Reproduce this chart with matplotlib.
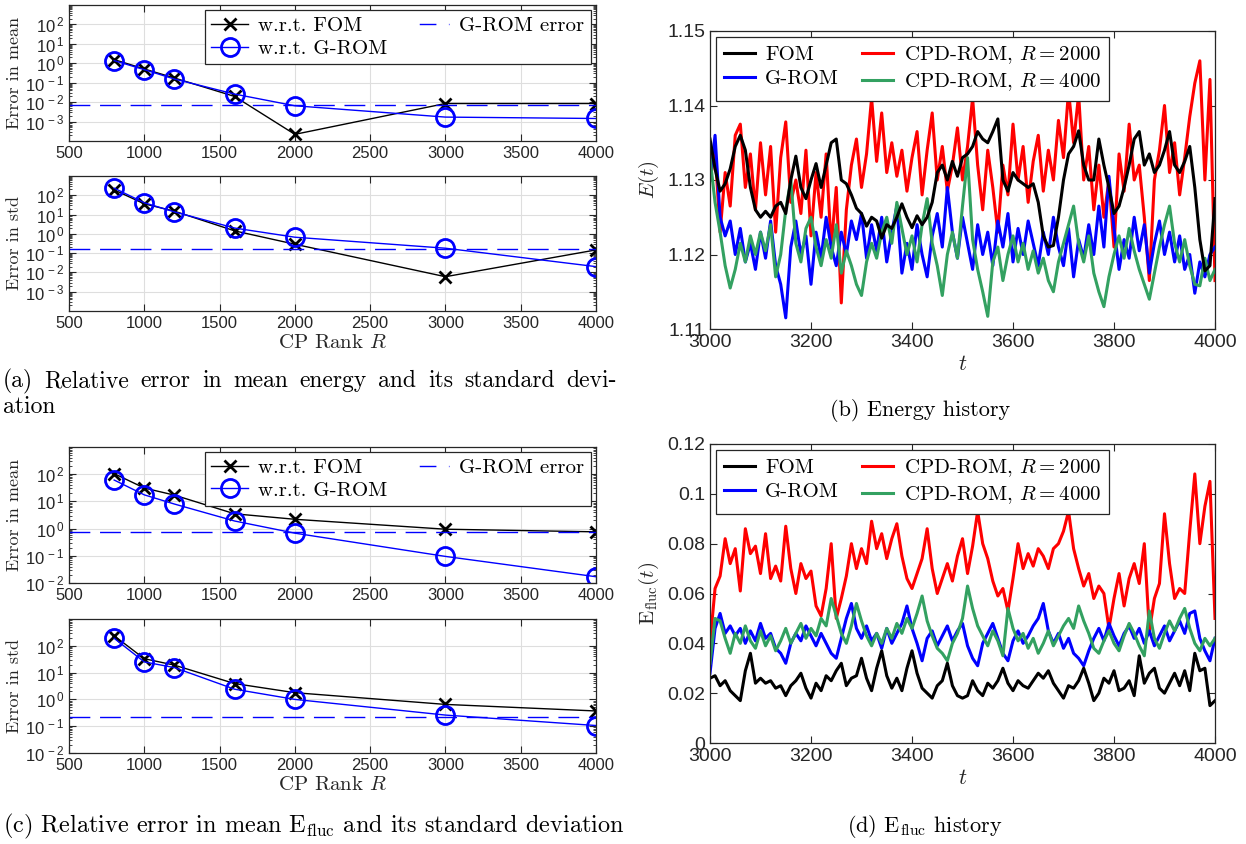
import numpy as np
import matplotlib
matplotlib.use("Agg")
import matplotlib.pyplot as plt
from matplotlib.lines import Line2D
from matplotlib.ticker import FixedLocator, FuncFormatter, LogLocator, NullFormatter, MultipleLocator

plt.rcParams['mathtext.fontset'] = 'cm'
plt.rcParams['font.family'] = ['Liberation Sans', 'DejaVu Sans']
plt.rcParams['axes.unicode_minus'] = False
SERIF = 'cmr10'
GRAY = (0.15, 0.15, 0.15)

### datos panel (a) y (c) ###
rank = [800, 1000, 1200, 1600, 2000, 3000, 4000]

E_mean_fom = [1.55, 0.51, 0.175, 0.0196, 2.2e-4, 0.0085, 0.0085]
E_mean_grom = [1.37, 0.47, 0.155, 0.026, 0.0065, 0.0017, 0.00144]
E_mean_ref = 0.0070
E_std_fom = [190, 36, 15, 1.43, 0.29, 0.006, 0.147]
E_std_grom = [234, 41, 13.8, 2.0, 0.67, 0.18, 0.02]
E_std_ref = 0.156

F_mean_fom = [105, 31, 17, 3.5, 2.2, 0.95, 0.76]
F_mean_grom = [61, 17.4, 8.0, 1.9, 0.68, 0.095, 0.017]
F_mean_ref = 0.76
F_std_fom = [237, 33, 19, 3.9, 1.78, 0.65, 0.37]
F_std_grom = [190, 25, 15.4, 2.4, 1.0, 0.26, 0.106]
F_std_ref = 0.22

### series temporales, t = 3000..4000 cada 10 ###
t = np.arange(3000, 4001, 10)

E_fom = [1.1355, 1.1315, 1.1285, 1.1295, 1.1315, 1.1345, 1.1360, 1.1340, 1.1290, 1.1260,
         1.1250, 1.1258, 1.1250, 1.1265, 1.1270, 1.1255, 1.1300, 1.1332, 1.1290, 1.1275,
         1.1300, 1.1322, 1.1290, 1.1320, 1.1350, 1.1355, 1.1300, 1.1295, 1.1280, 1.1262,
         1.1255, 1.1238, 1.1250, 1.1245, 1.1222, 1.1240, 1.1235, 1.1250, 1.1268, 1.1250,
         1.1236, 1.1252, 1.1240, 1.1250, 1.1270, 1.1310, 1.1320, 1.1300, 1.1325, 1.1305,
         1.1330, 1.1335, 1.1345, 1.1365, 1.1355, 1.1350, 1.1365, 1.1382, 1.1300, 1.1285,
         1.1310, 1.1300, 1.1295, 1.1290, 1.1295, 1.1270, 1.1225, 1.1210, 1.1212, 1.1250,
         1.1300, 1.1335, 1.1345, 1.1366, 1.1320, 1.1300, 1.1300, 1.1355, 1.1320, 1.1290,
         1.1255, 1.1265, 1.1290, 1.1320, 1.1355, 1.1365, 1.1320, 1.1335, 1.1310, 1.1320,
         1.1340, 1.1365, 1.1320, 1.1310, 1.1325, 1.1345, 1.1290, 1.1220, 1.1178, 1.1185,
         1.1275]
E_grom = [1.1300, 1.1360, 1.1250, 1.1225, 1.1245, 1.1200, 1.1235, 1.1190, 1.1215, 1.1180,
          1.1230, 1.1195, 1.1245, 1.1185, 1.1160, 1.1115, 1.1210, 1.1245, 1.1200, 1.1225,
          1.1160, 1.1230, 1.1195, 1.1250, 1.1210, 1.1185, 1.1230, 1.1200, 1.1245, 1.1220,
          1.1255, 1.1195, 1.1240, 1.1205, 1.1250, 1.1190, 1.1230, 1.1265, 1.1175, 1.1215,
          1.1180, 1.1240, 1.1200, 1.1170, 1.1225, 1.1255, 1.1210, 1.1290, 1.1230, 1.1195,
          1.1250, 1.1215, 1.1180, 1.1240, 1.1200, 1.1230, 1.1185, 1.1245, 1.1210, 1.1255,
          1.1190, 1.1235, 1.1200, 1.1245, 1.1215, 1.1185, 1.1230, 1.1200, 1.1250, 1.1210,
          1.1185, 1.1235, 1.1170, 1.1220, 1.1195, 1.1240, 1.1200, 1.1265, 1.1210, 1.1305,
          1.1235, 1.1180, 1.1220, 1.1195, 1.1250, 1.1205, 1.1240, 1.1175, 1.1215, 1.1245,
          1.1200, 1.1230, 1.1190, 1.1225, 1.1180, 1.1200, 1.1148, 1.1190, 1.1170, 1.1200,
          1.1210]
E_r2000 = [1.1300, 1.1340, 1.1230, 1.1310, 1.1265, 1.1360, 1.1375, 1.1290, 1.1335, 1.1260,
           1.1350, 1.1280, 1.1345, 1.1230, 1.1330, 1.1378, 1.1270, 1.1300, 1.1255, 1.1340,
           1.1225, 1.1310, 1.1250, 1.1335, 1.1210, 1.1290, 1.1135, 1.1260, 1.1320, 1.1355,
           1.1290, 1.1335, 1.1410, 1.1325, 1.1390, 1.1310, 1.1350, 1.1305, 1.1340, 1.1285,
           1.1330, 1.1365, 1.1280, 1.1340, 1.1390, 1.1300, 1.1345, 1.1285, 1.1320, 1.1370,
           1.1300, 1.1345, 1.1410, 1.1320, 1.1260, 1.1340, 1.1290, 1.1230, 1.1320, 1.1280,
           1.1375, 1.1300, 1.1345, 1.1270, 1.1325, 1.1360, 1.1285, 1.1340, 1.1300, 1.1380,
           1.1330, 1.1420, 1.1350, 1.1415, 1.1300, 1.1345, 1.1260, 1.1320, 1.1250, 1.1300,
           1.1210, 1.1335, 1.1285, 1.1375, 1.1300, 1.1320, 1.1250, 1.1165, 1.1300, 1.1340,
           1.1400, 1.1310, 1.1350, 1.1280, 1.1330, 1.1385, 1.1430, 1.1460, 1.1300, 1.1435,
           1.1165]
E_r4000 = [1.1330, 1.1270, 1.1230, 1.1185, 1.1155, 1.1180, 1.1215, 1.1190, 1.1225, 1.1200,
           1.1230, 1.1205, 1.1240, 1.1170, 1.1200, 1.1260, 1.1300, 1.1215, 1.1190, 1.1235,
           1.1250, 1.1210, 1.1185, 1.1220, 1.1195, 1.1240, 1.1175, 1.1205, 1.1185, 1.1160,
           1.1145, 1.1190, 1.1215, 1.1195, 1.1230, 1.1250, 1.1215, 1.1270, 1.1235, 1.1200,
           1.1225, 1.1190, 1.1240, 1.1275, 1.1215, 1.1185, 1.1145, 1.1200, 1.1230, 1.1195,
           1.1265, 1.1330, 1.1220, 1.1180, 1.1150, 1.1117, 1.1190, 1.1210, 1.1165, 1.1200,
           1.1225, 1.1190, 1.1215, 1.1180, 1.1205, 1.1175, 1.1195, 1.1165, 1.1150, 1.1190,
           1.1215, 1.1240, 1.1265, 1.1215, 1.1190, 1.1225, 1.1175, 1.1150, 1.1130, 1.1170,
           1.1200, 1.1225, 1.1195, 1.1235, 1.1205, 1.1180, 1.1160, 1.1140, 1.1175, 1.1210,
           1.1240, 1.1265, 1.1215, 1.1190, 1.1220, 1.1185, 1.1160, 1.1158, 1.1195, 1.1165,
           1.1180]

F_fom = [0.026, 0.027, 0.023, 0.025, 0.021, 0.019, 0.017, 0.029, 0.036, 0.024,
         0.026, 0.024, 0.025, 0.022, 0.023, 0.019, 0.023, 0.025, 0.028, 0.022,
         0.018, 0.024, 0.021, 0.027, 0.025, 0.029, 0.032, 0.023, 0.026, 0.027,
         0.034, 0.026, 0.021, 0.030, 0.037, 0.027, 0.022, 0.026, 0.021, 0.030,
         0.037, 0.028, 0.022, 0.020, 0.018, 0.023, 0.025, 0.032, 0.023, 0.019,
         0.018, 0.019, 0.025, 0.021, 0.019, 0.024, 0.022, 0.025, 0.030, 0.024,
         0.021, 0.025, 0.023, 0.022, 0.025, 0.028, 0.026, 0.029, 0.024, 0.021,
         0.018, 0.023, 0.022, 0.025, 0.030, 0.024, 0.017, 0.020, 0.026, 0.024,
         0.029, 0.021, 0.022, 0.025, 0.019, 0.035, 0.024, 0.028, 0.030, 0.022,
         0.020, 0.024, 0.028, 0.023, 0.029, 0.021, 0.036, 0.029, 0.030, 0.015,
         0.017]
F_grom = [0.028, 0.046, 0.052, 0.044, 0.047, 0.043, 0.046, 0.040, 0.045, 0.041,
          0.048, 0.042, 0.044, 0.038, 0.036, 0.032, 0.040, 0.044, 0.041, 0.047,
          0.043, 0.039, 0.044, 0.040, 0.036, 0.034, 0.042, 0.050, 0.056, 0.046,
          0.042, 0.047, 0.041, 0.044, 0.038, 0.046, 0.040, 0.044, 0.048, 0.055,
          0.046, 0.040, 0.033, 0.042, 0.045, 0.039, 0.043, 0.047, 0.041, 0.045,
          0.048, 0.039, 0.034, 0.031, 0.040, 0.044, 0.048, 0.042, 0.036, 0.033,
          0.041, 0.045, 0.040, 0.043, 0.047, 0.050, 0.056, 0.045, 0.040, 0.044,
          0.038, 0.042, 0.036, 0.034, 0.031, 0.037, 0.042, 0.046, 0.041, 0.048,
          0.043, 0.039, 0.044, 0.047, 0.042, 0.046, 0.040, 0.045, 0.039, 0.043,
          0.047, 0.041, 0.045, 0.049, 0.044, 0.052, 0.053, 0.042, 0.037, 0.033,
          0.042]
F_r2000 = [0.040, 0.062, 0.067, 0.082, 0.072, 0.078, 0.061, 0.086, 0.076, 0.079,
           0.068, 0.084, 0.066, 0.071, 0.065, 0.087, 0.070, 0.060, 0.072, 0.066,
           0.069, 0.055, 0.051, 0.062, 0.080, 0.050, 0.058, 0.067, 0.080, 0.070,
           0.078, 0.072, 0.089, 0.078, 0.084, 0.074, 0.082, 0.088, 0.075, 0.066,
           0.062, 0.068, 0.074, 0.086, 0.070, 0.060, 0.066, 0.072, 0.065, 0.075,
           0.082, 0.068, 0.079, 0.093, 0.080, 0.074, 0.065, 0.059, 0.062, 0.053,
           0.066, 0.080, 0.070, 0.076, 0.071, 0.078, 0.075, 0.070, 0.078, 0.080,
           0.085, 0.093, 0.078, 0.070, 0.063, 0.068, 0.058, 0.063, 0.060, 0.046,
           0.058, 0.068, 0.055, 0.066, 0.072, 0.064, 0.080, 0.045, 0.058, 0.064,
           0.092, 0.072, 0.058, 0.062, 0.060, 0.085, 0.108, 0.080, 0.095, 0.105,
           0.050]
F_r4000 = [0.032, 0.050, 0.049, 0.042, 0.036, 0.044, 0.040, 0.047, 0.041, 0.038,
           0.045, 0.039, 0.043, 0.037, 0.041, 0.046, 0.040, 0.044, 0.048, 0.042,
           0.046, 0.043, 0.050, 0.047, 0.058, 0.051, 0.044, 0.040, 0.047, 0.056,
           0.049, 0.043, 0.039, 0.044, 0.040, 0.046, 0.042, 0.048, 0.044, 0.050,
           0.046, 0.052, 0.059, 0.049, 0.043, 0.038, 0.036, 0.033, 0.040, 0.044,
           0.050, 0.063, 0.054, 0.047, 0.043, 0.039, 0.045, 0.041, 0.035, 0.054,
           0.046, 0.041, 0.044, 0.038, 0.042, 0.036, 0.040, 0.045, 0.039, 0.043,
           0.047, 0.050, 0.046, 0.055, 0.049, 0.044, 0.038, 0.036, 0.041, 0.045,
           0.040, 0.037, 0.043, 0.048, 0.044, 0.039, 0.035, 0.053, 0.042, 0.038,
           0.044, 0.049, 0.045, 0.050, 0.054, 0.046, 0.040, 0.037, 0.042, 0.039,
           0.042]

GREEN = (0.2, 0.63, 0.38)
W, H = 1246, 844
DASH = (15, 7)


def box(x0, y0, x1, y1):
    # pixeles de la imagen -> fraccion de figura
    return [x0 / W, 1 - y1 / H, (x1 - x0) / W, (y1 - y0) / H]


def style_axes(ax, size):
    ax.tick_params(direction='in', which='both', top=True, right=True,
                   colors=GRAY, labelsize=size, length=5)
    ax.tick_params(which='minor', length=2.5)
    for s in ax.spines.values():
        s.set_color(GRAY)
        s.set_linewidth(0.9)


def log_fmt(v, pos):
    return r'$\mathregular{10^{\,%d}}$' % int(round(np.log10(v)))


def error_panel(ax, fom, grom, ref, ylab, ylim, show_legend):
    ax.set_yscale('log')
    l1, = ax.plot(rank, fom, '-', color='k', lw=1, marker='x', ms=9, mew=2, label='w.r.t. FOM')
    l2, = ax.plot(rank, grom, '-', color='b', lw=1, marker='o', ms=13, mew=2,
                  mfc='none', mec='b', label='w.r.t. G-ROM')
    ax.axhline(ref, color='b', lw=1, dashes=DASH)
    ax.set_xlim(500, 4000)
    ax.set_ylim(*ylim)
    ax.xaxis.set_major_locator(MultipleLocator(500))
    lo, hi = int(np.log10(ylim[0])), int(np.log10(ylim[1]))
    ax.yaxis.set_major_locator(FixedLocator([10.0 ** k for k in range(lo + (1 if lo < -2 else 0), hi)]))
    ax.yaxis.set_major_formatter(FuncFormatter(log_fmt))
    ax.yaxis.set_minor_locator(LogLocator(base=10, subs=np.arange(2, 10), numticks=20))
    ax.yaxis.set_minor_formatter(NullFormatter())
    ax.grid(True, which='major', color=(0.87, 0.87, 0.87), lw=0.8)
    ax.set_axisbelow(True)
    style_axes(ax, 12)
    ax.set_ylabel(ylab, fontfamily=SERIF, fontsize=13, color=GRAY, labelpad=2)
    if show_legend:
        # entrada de leyenda con un solo trazo centrado
        l3 = Line2D([], [], color='b', lw=1, linestyle=(16.5, (12, 9)), label='G-ROM error')
        leg = ax.legend(handles=[l1, l2, l3], ncol=2, loc='upper right',
                        prop={'family': SERIF, 'size': 15}, frameon=True, fancybox=False,
                        edgecolor=GRAY, framealpha=1, borderaxespad=0.25,
                        handlelength=1.75, handletextpad=0.5, columnspacing=1.2,
                        borderpad=0.3, labelspacing=0.2)
        leg.get_frame().set_linewidth(0.9)


def history_panel(ax, fom, grom, r2, r4, ylab, ylim, ystep):
    lw = 2.2
    ax.plot(t, r2, color='r', lw=lw, label=r'CPD-ROM, $R=2000$')
    ax.plot(t, grom, color='b', lw=lw, label='G-ROM')
    ax.plot(t, r4, color=GREEN, lw=lw, label=r'CPD-ROM, $R=4000$')
    ax.plot(t, fom, color='k', lw=lw, label='FOM')
    ax.set_xlim(3000, 4000)
    ax.set_ylim(*ylim)
    ax.xaxis.set_major_locator(MultipleLocator(200))
    ax.yaxis.set_major_locator(MultipleLocator(ystep))
    ax.yaxis.set_major_formatter(FuncFormatter(lambda v, p: '%g' % round(v, 4)))
    style_axes(ax, 14)
    ax.set_xlabel(r'$t$', fontsize=16, color=GRAY, labelpad=2)
    ax.set_ylabel(ylab, fontsize=15, color=GRAY, labelpad=4)
    h, l = ax.get_legend_handles_labels()
    order = [3, 1, 0, 2]
    leg = ax.legend([h[i] for i in order], [l[i] for i in order], ncol=2, loc='upper left',
                    prop={'family': SERIF, 'size': 15}, frameon=True, fancybox=False,
                    edgecolor=GRAY, framealpha=1, borderaxespad=0.3,
                    handlelength=1.5, handletextpad=0.5, columnspacing=1.1,
                    borderpad=0.35, labelspacing=0.25)
    leg.get_frame().set_linewidth(0.9)


def justified(fig, text, x0, x1, y, **kw):
    # linea justificada palabra por palabra, como en LaTeX
    words = text.split(' ')
    r = fig.canvas.get_renderer()
    objs = [fig.text(0, 1 - y / H, w_, va='center', ha='left', **kw) for w_ in words]
    widths = [o.get_window_extent(r).width for o in objs]
    gap = (x1 - x0 - sum(widths)) / (len(words) - 1)
    x = x0
    for o, w_ in zip(objs, widths):
        o.set_x(x / W)
        x += w_ + gap


fig = plt.figure(figsize=(W / 100, H / 100), dpi=100)

ax_a1 = fig.add_axes(box(69, 5, 596, 141))
ax_a2 = fig.add_axes(box(69, 176, 596, 311))
ax_c1 = fig.add_axes(box(69, 447, 596, 583))
ax_c2 = fig.add_axes(box(69, 619, 596, 753))
ax_b = fig.add_axes(box(710, 31, 1215, 329))
ax_d = fig.add_axes(box(710, 444, 1215, 743))

error_panel(ax_a1, E_mean_fom, E_mean_grom, E_mean_ref, 'Error in mean', (1e-4, 1e3), True)
error_panel(ax_a2, E_std_fom, E_std_grom, E_std_ref, 'Error in std', (1e-4, 1e3), False)
error_panel(ax_c1, F_mean_fom, F_mean_grom, F_mean_ref, 'Error in mean', (1e-2, 1e3), True)
error_panel(ax_c2, F_std_fom, F_std_grom, F_std_ref, 'Error in std', (1e-2, 1e3), False)
for ax in (ax_a2, ax_c2):
    ax.set_xlabel(r'CP Rank $R$', fontfamily=SERIF, fontsize=15, color=GRAY, labelpad=2)

history_panel(ax_b, E_fom, E_grom, E_r2000, E_r4000, r'$E(t)$', (1.11, 1.15), 0.01)
history_panel(ax_d, F_fom, F_grom, F_r2000, F_r4000, r'$\mathrm{E}_{\mathrm{fluc}}(t)$', (0, 0.12), 0.02)

cap = dict(fontfamily=SERIF, fontsize=17, color='k')
justified(fig, '(a) Relative error in mean energy and its standard devi-', 3, 617, 381, **cap)
fig.text(3 / W, 1 - 407 / H, 'ation', va='center', ha='left', **cap)
fig.text(920 / W, 1 - 411 / H, '(b) Energy history', va='center', ha='center',
         fontfamily=SERIF, fontsize=16, color='k')
fig.text(3 / W, 1 - 826 / H, r'(c) Relative error in mean $\mathrm{E}_{\mathrm{fluc}}$ and its standard deviation',
         va='center', ha='left', fontfamily=SERIF, fontsize=17.5, color='k')
fig.text(925 / W, 1 - 826 / H, r'(d) $\mathrm{E}_{\mathrm{fluc}}$ history', va='center', ha='center',
         fontfamily=SERIF, fontsize=16, color='k')

fig.savefig('out.png', dpi=100)
